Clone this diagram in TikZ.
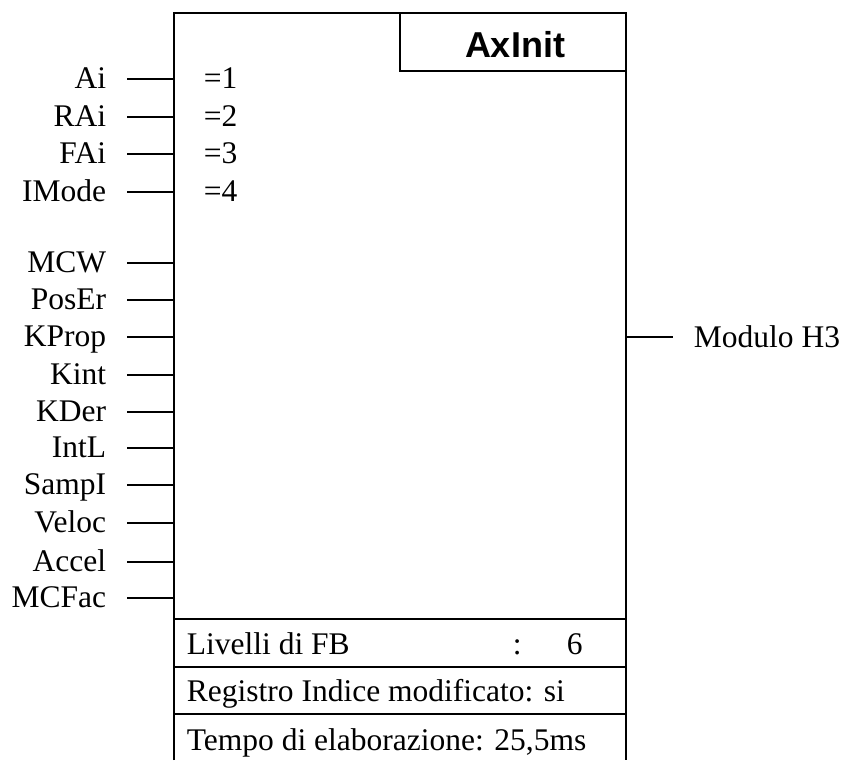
\documentclass[tikz,border=0pt]{standalone}
\usepackage{fontspec}
\setmainfont{Liberation Serif}
\newfontfamily\titlefont{Liberation Sans}
\begin{document}
\begin{tikzpicture}[x=1pt, y=-1pt, line width=1.8pt,
  pinlabel/.style={inner sep=0pt, font=\fontsize{31.5}{36}\selectfont},
  rowtext/.style={inner sep=0pt, anchor=base west, font=\fontsize{31.5}{36}\selectfont},
  titletext/.style={inner sep=0pt, font=\titlefont\bfseries\fontsize{36}{42}\selectfont}]
\useasboundingbox (0,0) rectangle (842,760);

% function block outline
\draw (174,760) -- (174,13) -- (626,13) -- (626,760);
\draw (400,13) -- (400,71) -- (626,71);
\node[titletext] (title) at (515,45) {AxInit};

% inputs
\foreach \y/\t/\n in {79/Ai/1, 117/RAi/2, 154/FAi/3, 192/IMode/4,
    263/MCW/5, 300/PosEr/6, 337/KProp/7, 375/Kint/8, 412/KDer/9,
    448/IntL/10, 485/SampI/11, 523/Veloc/12, 562/Accel/13, 598/MCFac/14} {
  \node[pinlabel, anchor=base east] (in\n) at (107,\y+9.5) {\t};
  \coordinate (pa\n) at (127,\y);
  \coordinate (pb\n) at (174,\y);
  \draw (pa\n) -- (pb\n);
}

% fixed input values
\foreach \y/\v in {79/1, 117/2, 154/3, 192/4} {
  \node[pinlabel, anchor=base west] (val\v) at (203,\y+9.5) {=\v};
}

% output
\coordinate (oa) at (626,337);
\coordinate (ob) at (673,337);
\draw (oa) -- (ob);
\node[pinlabel, anchor=base west] (out) at (693,347) {Modulo H3};

% information rows
\draw (174,619) -- (626,619);
\draw (174,667) -- (626,667);
\draw (174,714) -- (626,714);
\node[rowtext] (lev) at (186,654) {Livelli di FB};
\node[rowtext] (levc) at (512,654) {:};
\node[rowtext] (levv) at (566,654) {6};
\node[rowtext] (reg) at (186,701) {Registro Indice modificato: si};
\node[rowtext] (tmp) at (186,750) {Tempo di elaborazione: 25,5ms};
\end{tikzpicture}
\end{document}
